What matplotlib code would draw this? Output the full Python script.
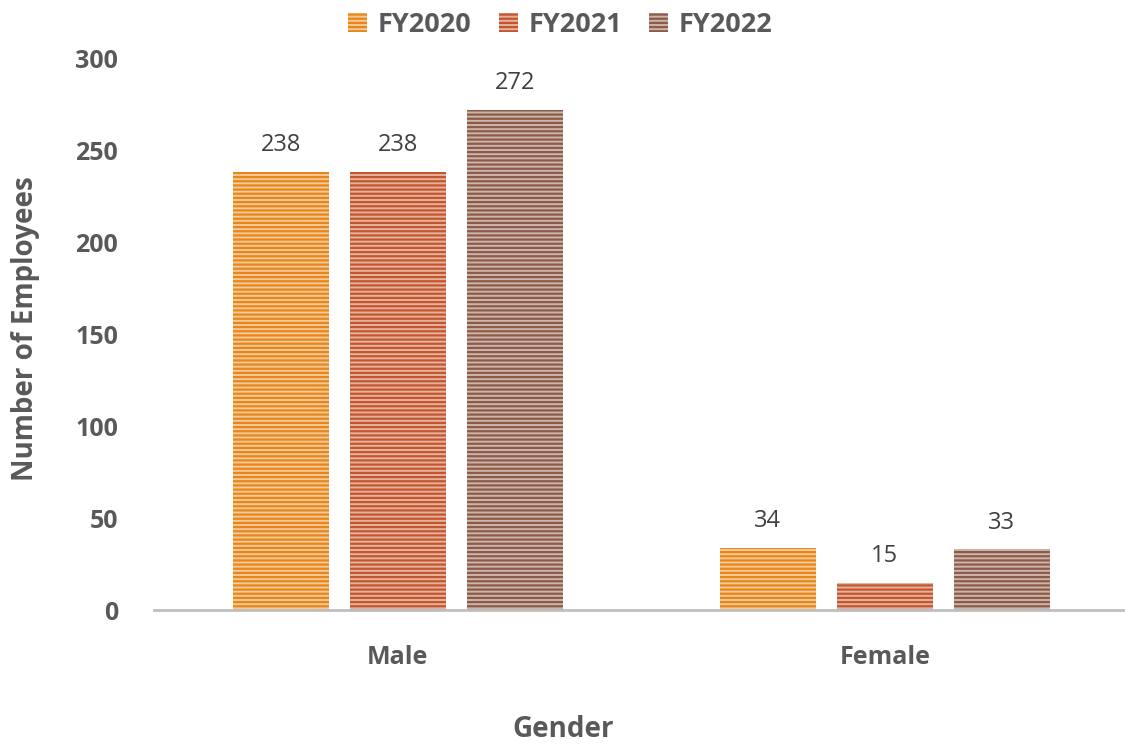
import numpy as np
import matplotlib
matplotlib.use("Agg")
import matplotlib.pyplot as plt
from matplotlib.colors import to_rgb

plt.rcParams['font.family'] = ['Open Sans', 'DejaVu Sans']
plt.rcParams['hatch.linewidth'] = 1.6

categories = ["Male", "Female"]
years = ["FY2020", "FY2021", "FY2022"]
fy2020 = [238, 34]
fy2021 = [238, 15]
fy2022 = [272, 33]
series = [fy2020, fy2021, fy2022]
colors = ["#E8861A", "#C4552C", "#8E5B48"]
label_grey = '#595959'


def tint(c, amount=0.55):
    r, g, b = to_rgb(c)
    return (r + (1 - r) * amount, g + (1 - g) * amount, b + (1 - b) * amount)


fig = plt.figure(figsize=(11.25, 7.45), dpi=100)
ax = fig.add_axes([0.137, 0.181, 0.866, 0.741])

x = np.arange(len(categories))
width = 0.197
step = 0.240

handles = []
for i, (vals, name, col) in enumerate(zip(series, years, colors)):
    bars = ax.bar(x + (i - 1) * step, vals, width, facecolor=tint(col),
                  edgecolor=col, linewidth=0, hatch='----', label=name)
    handles.append(bars)
    for rect, v in zip(bars, vals):
        ax.text(rect.get_x() + rect.get_width() / 2, v + 8, str(v),
                ha='center', va='bottom', fontsize=17, color='#404040')

ax.set_xlim(-0.5, 1.5)
ax.set_ylim(0, 300)
ax.set_yticks(range(0, 301, 50))
ax.set_xticks(x)
ax.set_xticklabels(categories)
ax.tick_params(length=0, labelsize=18, colors=label_grey)
for lbl in ax.get_xticklabels() + ax.get_yticklabels():
    lbl.set_fontweight('bold')
ax.tick_params(axis='y', pad=26)
ax.tick_params(axis='x', pad=25)

for s in ['top', 'right', 'left']:
    ax.spines[s].set_visible(False)
ax.spines['bottom'].set_color('#BFBFBF')
ax.spines['bottom'].set_linewidth(2)

ax.set_xlabel("Gender", fontsize=20, fontweight='bold', color=label_grey)
ax.xaxis.set_label_coords(0.42, -0.19)
ax.set_ylabel("Number of Employees", fontsize=20, fontweight='bold', color=label_grey)
ax.yaxis.set_label_coords(-0.117, 0.51)

leg = fig.legend(handles=handles, labels=years, loc='upper center',
                 bbox_to_anchor=(0.498, 1.017), ncol=3, frameon=False,
                 fontsize=19.5, handlelength=0.7, handleheight=0.7,
                 columnspacing=1.0, handletextpad=0.4)
for t in leg.get_texts():
    t.set_fontweight('bold')
    t.set_color(label_grey)

fig.savefig("out.png", dpi=100)
